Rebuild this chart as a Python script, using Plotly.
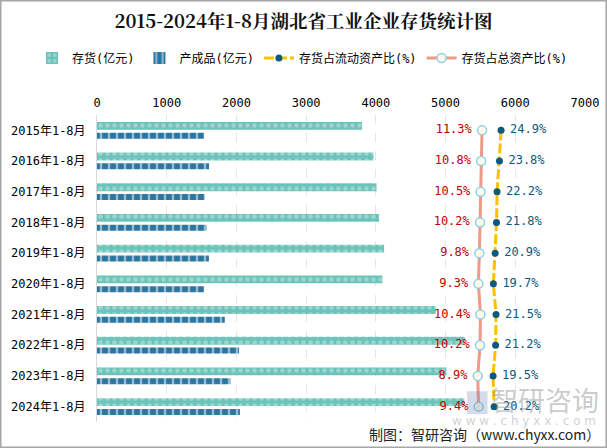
import plotly.graph_objects as go

categories = ["2015年1-8月", "2016年1-8月", "2017年1-8月", "2018年1-8月", "2019年1-8月",
              "2020年1-8月", "2021年1-8月", "2022年1-8月", "2023年1-8月", "2024年1-8月"]
inventory = [3802, 3966, 4009, 4046, 4118, 4095, 4859, 5276, 5013, 5270]
finished_goods = [1533, 1607, 1545, 1570, 1605, 1533, 1833, 2038, 1914, 2050]
ratio_current = [24.9, 23.8, 22.2, 21.8, 20.9, 19.7, 21.5, 21.2, 19.5, 20.2]
ratio_total = [11.3, 10.8, 10.5, 10.2, 9.8, 9.3, 10.4, 10.2, 8.9, 9.4]
x_ticks = [0, 1000, 2000, 3000, 4000, 5000, 6000, 7000]

W, H = 607, 448
ML, MR, MT, MB = 97, 22, 115, 26
PW, PH = W - ML - MR, H - MT - MB


def py(pixel_y):
    """figure pixel row -> paper y"""
    return (H - MB - pixel_y) / PH


def px(pixel_x):
    return (pixel_x - ML) / PW


FONT = "DejaVu Sans Mono, Noto Sans CJK SC, sans-serif"
GAP = "<span style='font-size:6px'>\u00a0</span>"

fig = go.Figure()

fig.add_trace(go.Bar(
    y=categories, x=inventory, orientation="h", name="存货(亿元)",
    offset=-0.275, width=0.255,
    marker=dict(color="#7CCAC2", line=dict(width=0),
                pattern=dict(shape=".", fgcolor="#C6EAE6", bgcolor="#6CC3BA",
                             size=7, solidity=0.35)),
    xaxis="x", yaxis="y", hoverinfo="x+y",
))
fig.add_trace(go.Bar(
    y=categories, x=finished_goods, orientation="h", name="产成品(亿元)",
    offset=0.075, width=0.195,
    marker=dict(color="#1F6F9A", line=dict(width=0),
                pattern=dict(shape="|", fgcolor="#FFFFFF", bgcolor="#2A76A0",
                             size=8, solidity=0.3)),
    xaxis="x", yaxis="y", hoverinfo="x+y",
))
fig.add_trace(go.Scatter(
    y=categories, x=ratio_current, name="存货占流动资产比(%)",
    mode="lines+markers+text",
    line=dict(color="#FFC000", width=3, dash="10px,3px"),
    marker=dict(color="#0B5A80", size=7),
    text=[f"{GAP}{v:.1f}%" for v in ratio_current], textposition="middle right",
    textfont=dict(color="#0B5A80", size=12, family=FONT),
    xaxis="x3", yaxis="y", cliponaxis=False,
))
fig.add_trace(go.Scatter(
    y=categories, x=ratio_total, name="存货占总资产比(%)",
    mode="lines+markers+text",
    line=dict(color="#EF9A86", width=3),
    marker=dict(color="#FFFBE6", size=9, line=dict(color="#8DD0EE", width=1.5)),
    text=[f"{v:.1f}%{GAP}" for v in ratio_total], textposition="middle left",
    textfont=dict(color="#C00000", size=12, family=FONT),
    xaxis="x2", yaxis="y", cliponaxis=False,
))

fig.update_layout(
    width=W, height=H, autosize=False,
    margin=dict(l=ML, r=MR, t=MT, b=MB, autoexpand=False),
    paper_bgcolor="white", plot_bgcolor="white",
    barmode="overlay",
    font=dict(family=FONT, size=12, color="#000000"),
    title=dict(text="<b>2015-2024年1-8月湖北省工业企业存货统计图</b>",
               x=0.5, xref="container", xanchor="center",
               y=1 - 22 / H, yref="container", yanchor="middle",
               font=dict(size=18.5, family="Noto Serif CJK SC, Noto Sans CJK SC, serif", color="#111111")),
    legend=dict(orientation="h", xref="paper", yref="paper",
                x=px(32), xanchor="left", y=py(58), yanchor="middle",
                font=dict(size=12, family=FONT), itemwidth=30, tracegroupgap=0,
                bgcolor="rgba(0,0,0,0)"),
    showlegend=True,
    xaxis=dict(range=[0, 7000], side="top", tickvals=x_ticks,
               ticktext=[str(v) for v in x_ticks],
               showgrid=True, gridcolor="#E6E6E6", griddash="dash", gridwidth=1,
               zeroline=False, showline=False, ticks="", automargin=False,
               ticklabelstandoff=5,
               tickfont=dict(size=12, family=FONT), fixedrange=True),
    xaxis2=dict(overlaying="x", range=[-202.6, 68.5], visible=False, showgrid=False),
    xaxis3=dict(overlaying="x", range=[-248.1, 81.6], visible=False, showgrid=False),
    yaxis=dict(range=[9.5, -0.5], autorange=False, showline=True, linecolor="#D9D9D9", linewidth=1,
               showgrid=False, ticks="", ticklabelstandoff=8, automargin=False,
               tickfont=dict(size=12, family=FONT)),
    shapes=[dict(type="rect", xref="paper", yref="paper",
                 x0=px(0.75), x1=px(W - 0.75),
                 y0=py(H - 0.75), y1=py(0.75),
                 line=dict(color="#A6A6A6", width=1.5), layer="below")],
    annotations=[
        dict(text="智研咨询", xref="paper", yref="paper",
             x=px(545), y=py(399),
             xanchor="center", yanchor="middle", showarrow=False,
             font=dict(size=27, color="rgba(140,140,140,0.45)", family="Noto Sans CJK SC")),
        dict(text="▆", xref="paper", yref="paper",
             x=px(477), y=py(399),
             xanchor="center", yanchor="middle", showarrow=False,
             font=dict(size=26, color="rgba(110,130,180,0.30)", family="DejaVu Sans")),
        dict(text="w w w . c h y x x . c o m", xref="paper", yref="paper",
             x=px(524), y=py(421),
             xanchor="center", yanchor="middle", showarrow=False,
             font=dict(size=12, color="rgba(150,150,150,0.45)", family="DejaVu Sans")),
        dict(text="制图：智研咨询（www.chyxx.com）", xref="paper", yref="paper",
             x=px(602), y=py(434),
             xanchor="right", yanchor="middle", showarrow=False,
             font=dict(size=14, color="#222222", family="Noto Sans CJK SC")),
    ],
)

fig.write_html("out.html", config={"displayModeBar": False},
               post_script="document.body.style.margin='0';document.body.style.padding='0';")
